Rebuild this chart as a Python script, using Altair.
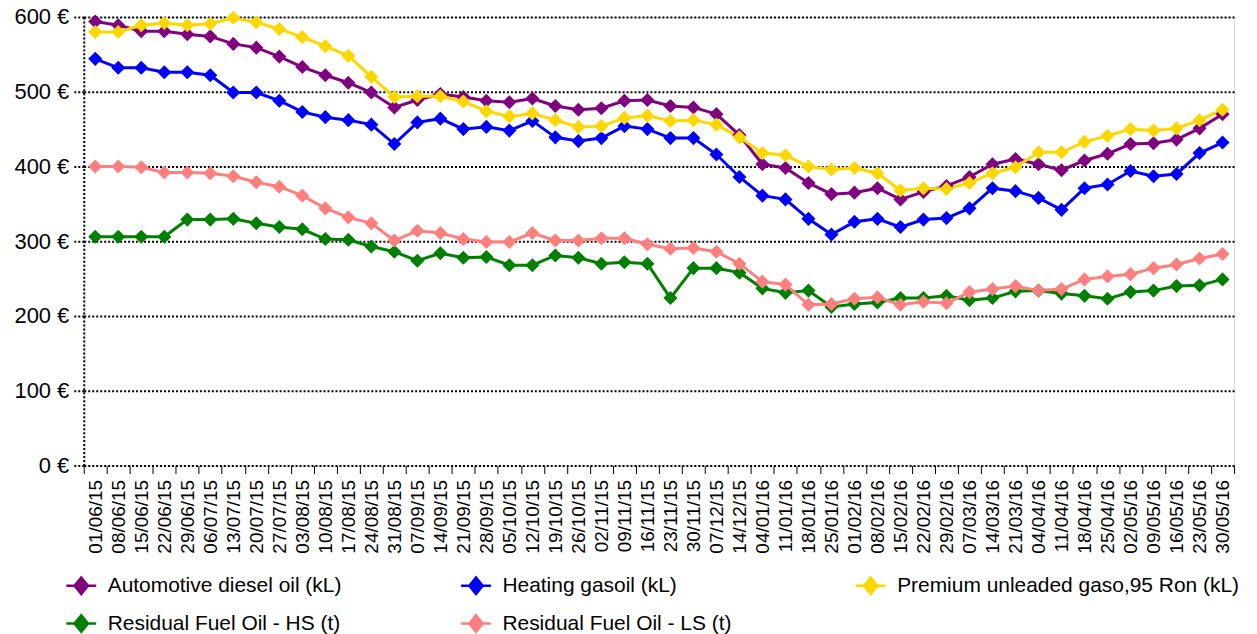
import altair as alt
import pandas as pd

dates = [
    "01/06/15", "08/06/15", "15/06/15", "22/06/15", "29/06/15", "06/07/15", "13/07/15", "20/07/15",
    "27/07/15", "03/08/15", "10/08/15", "17/08/15", "24/08/15", "31/08/15", "07/09/15", "14/09/15",
    "21/09/15", "28/09/15", "05/10/15", "12/10/15", "19/10/15", "26/10/15", "02/11/15", "09/11/15",
    "16/11/15", "23/11/15", "30/11/15", "07/12/15", "14/12/15", "04/01/16", "11/01/16", "18/01/16",
    "25/01/16", "01/02/16", "08/02/16", "15/02/16", "22/02/16", "29/02/16", "07/03/16", "14/03/16",
    "21/03/16", "04/04/16", "11/04/16", "18/04/16", "25/04/16", "02/05/16", "09/05/16", "16/05/16",
    "23/05/16", "30/05/16",
]

series_names = [
    "Automotive diesel oil (kL)",
    "Heating gasoil (kL)",
    "Premium unleaded gaso,95 Ron (kL)",
    "Residual Fuel Oil - HS (t)",
    "Residual Fuel Oil - LS (t)",
]

diesel = [594, 589, 581, 581, 577, 574, 564, 559, 547, 533,
          522, 512, 499, 479, 489, 497, 493, 488, 486, 491,
          481, 476, 478, 488, 489, 481, 479, 470, 442, 403,
          398, 378, 363, 365, 371, 356, 366, 374, 386, 403,
          410, 403, 395, 408, 417, 430, 431, 436, 451, 470]

heating = [544, 532, 532, 526, 526, 522, 499, 499, 488, 473,
           466, 462, 456, 430, 459, 464, 450, 453, 448, 461,
           439, 434, 438, 454, 450, 438, 438, 416, 386, 361,
           356, 330, 309, 326, 330, 319, 329, 331, 344, 371,
           367, 358, 342, 371, 376, 394, 387, 390, 418, 432]

premium = [580, 580, 589, 592, 589, 591, 599, 593, 584, 573,
           561, 548, 520, 493, 494, 494, 487, 474, 467, 471,
           462, 453, 454, 465, 468, 461, 462, 456, 439, 418,
           415, 400, 396, 398, 391, 368, 371, 370, 378, 391,
           399, 419, 419, 433, 441, 450, 448, 451, 462, 476]

fuel_hs = [306, 306, 306, 306, 329, 329, 330, 324, 319, 316,
           303, 302, 293, 286, 274, 284, 278, 279, 268, 268,
           281, 278, 270, 272, 270, 224, 264, 264, 258, 237,
           231, 234, 212, 216, 218, 224, 224, 227, 221, 224,
           233, 234, 230, 227, 223, 232, 234, 240, 241, 249]

fuel_ls = [400, 400, 399, 392, 392, 391, 387, 379, 373, 361,
           344, 332, 324, 301, 314, 311, 303, 299, 299, 311,
           301, 301, 304, 304, 296, 290, 291, 286, 270, 246,
           242, 215, 216, 223, 225, 215, 219, 217, 232, 236,
           240, 234, 236, 249, 253, 256, 264, 269, 277, 283]

colors = ["#800080", "#0000FF", "#FFD700", "#008000", "#FF7F7F"]
y_ticks = [0, 100, 200, 300, 400, 500, 600]

rows = []
for name, vals in zip(series_names, [diesel, heating, premium, fuel_hs, fuel_ls]):
    for d, v in zip(dates, vals):
        rows.append({"date": d, "series": name, "value": v})
df = pd.DataFrame(rows)

FONT = "Liberation Sans"

chart = alt.Chart(df).mark_line(
    strokeWidth=3,
    point=alt.OverlayMarkDef(filled=True, shape="diamond", size=200, opacity=1),
).encode(
    x=alt.X(
        "date:O",
        sort=dates,
        scale=alt.Scale(type="band", paddingInner=0, paddingOuter=0),
        axis=alt.Axis(
            title=None, labelAngle=270, labelFontSize=19, labelPadding=6,
            tickBand="extent", tickSize=8, tickColor="black", tickWidth=1,
            domain=False, labelColor="black", labelFont=FONT,
        ),
    ),
    y=alt.Y(
        "value:Q",
        scale=alt.Scale(domain=[0, 600], nice=False),
        axis=alt.Axis(
            values=y_ticks, labelExpr="datum.value + ' €'", title=None,
            grid=True, gridDash=[2, 2], gridWidth=2, gridColor="black", gridOpacity=1,
            domainDash=[2, 2], domainWidth=2, domainColor="black",
            tickDash=[2, 2], tickWidth=2, tickColor="black", tickSize=12,
            labelFontSize=22, labelPadding=3, labelColor="black", labelFont=FONT,
        ),
    ),
    color=alt.Color(
        "series:N",
        sort=series_names,
        scale=alt.Scale(domain=series_names, range=colors),
        legend=alt.Legend(
            title=None, orient="none", legendX=-19, legendY=554,
            direction="horizontal", columns=3, columnPadding=5, rowPadding=8,
            gridAlign="all",
            labelFontSize=21, labelLimit=500, labelFont=FONT, labelColor="black",
            labelOffset=10,
            symbolType="M-1,0L1,0M0,-0.55L0.45,0L0,0.55L-0.45,0Z",
            symbolSize=900, symbolStrokeWidth=2.5,
        ),
    ),
).properties(
    width=1154,
    height=450,
    padding={"left": 76, "top": 8, "right": 15, "bottom": 168},
    autosize=alt.AutoSizeParams(type="none"),
).configure_view(stroke=None).configure(font=FONT)

chart.save("out.html", embed_options={"renderer": "svg", "actions": False})
